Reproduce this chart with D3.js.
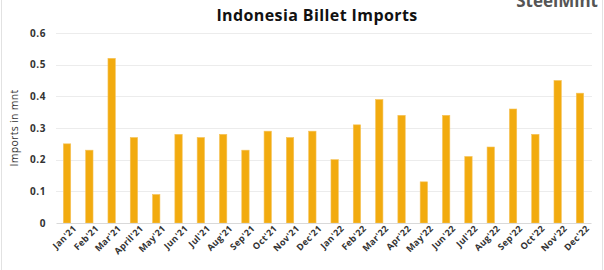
<!DOCTYPE html>
<html>
<head>
<meta charset="utf-8">
<script src="https://cdn.jsdelivr.net/npm/d3@7"></script>
<style>
  body { margin: 0; background: #fff; }
  svg { font-family: "Open Sans", sans-serif; }
</style>
</head>
<body>
<div class="chart"></div>
<script>
const months = ["Jan'21","Feb'21","Mar'21","April'21","May'21","Jun'21","Jul'21","Aug'21","Sep'21","Oct'21","Nov'21","Dec'21",
                "Jan'22","Feb'22","Mar'22","Apr'22","May'22","Jun'22","Jul'22","Aug'22","Sep'22","Oct'22","Nov'22","Dec'22"]
const imports = [0.25,0.23,0.52,0.27,0.09,0.28,0.27,0.28,0.23,0.29,0.27,0.29,
                 0.20,0.31,0.39,0.34,0.13,0.34,0.21,0.24,0.36,0.28,0.45,0.41]
const yTicks = [0,0.1,0.2,0.3,0.4,0.5,0.6]

const width = 604
const height = 270
const svg = d3.select('.chart').append('svg').attr('width', width).attr('height', height)

// frame lines at the sides
svg.append('line').attr('x1', 1.5).attr('x2', 1.5).attr('y1', 0).attr('y2', height).attr('stroke', '#e2e2e2')
svg.append('line').attr('x1', 602.5).attr('x2', 602.5).attr('y1', 0).attr('y2', height).attr('stroke', '#e2e2e2')

const x = d3.scaleBand().domain(months).range([56, 591]).paddingInner(0.67).paddingOuter(0.33)
const y = d3.scaleLinear().domain([0, 0.6]).range([223, 33])

// gridlines
svg.append('g')
    .selectAll('line')
    .data(yTicks.filter(d => d > 0))
    .enter()
    .append('line')
    .attr('x1', 56).attr('x2', 592)
    .attr('y1', d => Math.round(y(d)) + 0.5).attr('y2', d => Math.round(y(d)) + 0.5)
    .attr('stroke', '#ececec')

const yAxis = svg.append('g')
    .attr('transform', 'translate(56,0)')
    .call(d3.axisLeft(y).tickValues(yTicks).tickSize(0).tickPadding(10).tickFormat(d => d === 0 ? '0' : d3.format('.1f')(d)))
yAxis.select('.domain').remove()
yAxis.selectAll('text').attr('font-size', 10).attr('font-weight', 'bold').attr('fill', '#333')
    .attr('letter-spacing', 0.6)
    .style('font-family', '"Open Sans", sans-serif')

svg.selectAll('rect.bar')
    .data(imports)
    .enter()
    .append('rect')
    .attr('class', 'bar')
    .attr('x', (d, i) => x(months[i]))
    .attr('y', d => y(d))
    .attr('width', x.bandwidth())
    .attr('height', d => y(0) - y(d))
    .attr('fill', '#f2ab0f')
    .attr('stroke', '#f6c35a')
    .attr('stroke-width', 0.6)

const xAxis = svg.append('g')
    .attr('transform', 'translate(0,223)')
    .call(d3.axisBottom(x).tickSize(0).tickPadding(6))
xAxis.select('.domain').attr('stroke', '#d9d9d9')
xAxis.selectAll('text')
    .attr('font-size', 9)
    .attr('font-weight', 'bold')
    .attr('fill', '#333')
    .attr('letter-spacing', 0.3)
    .style('font-family', '"Open Sans", sans-serif')
    .attr('text-anchor', 'end')
    .attr('dx', '0.3em')
    .attr('dy', '0.6em')
    .attr('transform', 'rotate(-45)')

svg.append('text')
    .attr('transform', 'translate(18,128) rotate(-90)')
    .attr('text-anchor', 'middle')
    .attr('font-size', 10.5)
    .attr('fill', '#333')
    .attr('letter-spacing', 0.3)
    .text('Imports in mnt')

svg.append('text')
    .attr('x', 317)
    .attr('y', 21)
    .attr('text-anchor', 'middle')
    .attr('font-size', 16)
    .attr('font-weight', 'bold')
    .attr('letter-spacing', 0.4)
    .attr('fill', '#111')
    .text('Indonesia Billet Imports')

svg.append('text')
    .attr('x', 598)
    .attr('y', 7)
    .attr('text-anchor', 'end')
    .attr('font-size', 17)
    .attr('font-weight', 'bold')
    .attr('fill', '#555')
    .text('SteelMint')
</script>
</body>
</html>
